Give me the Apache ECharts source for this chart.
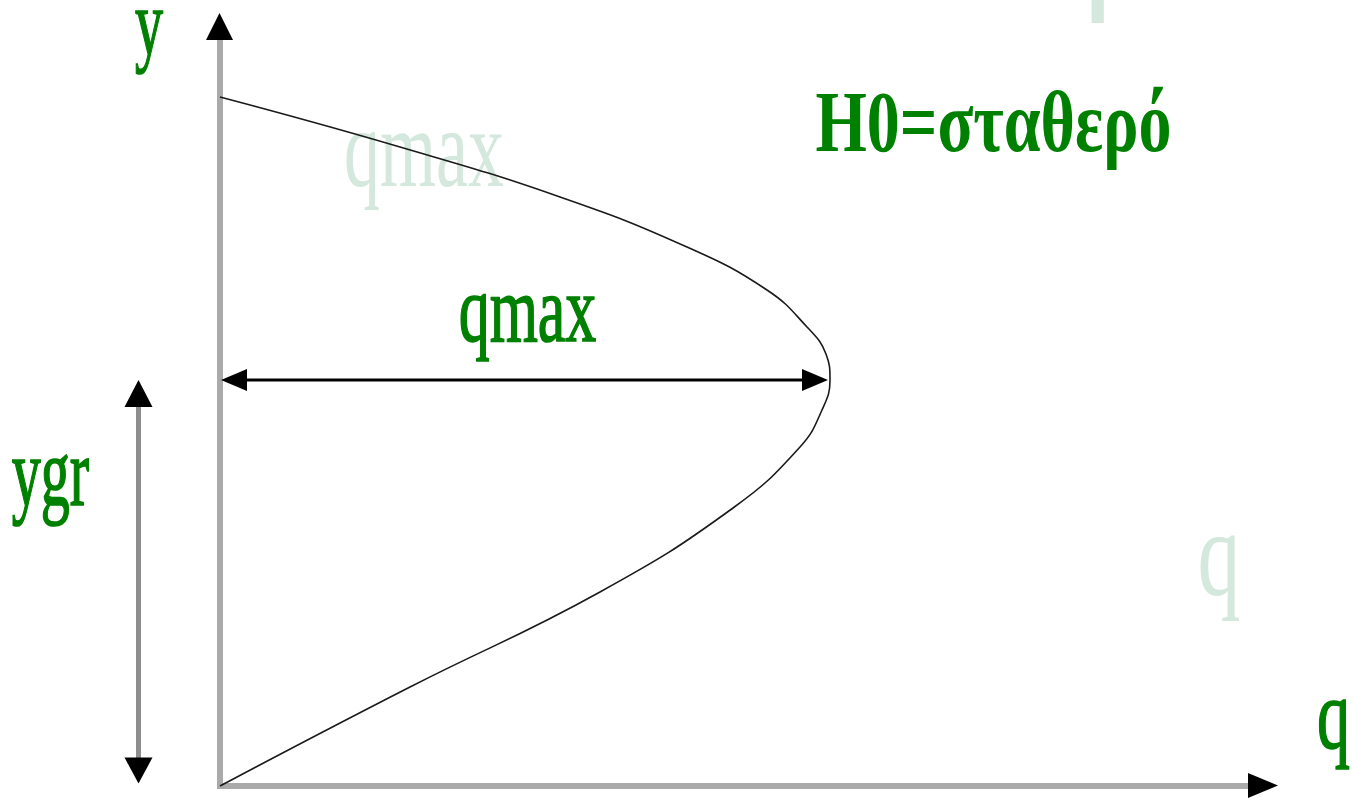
<!DOCTYPE html>
<html>
<head>
<meta charset="utf-8">
<script src="https://cdn.jsdelivr.net/npm/echarts@6/dist/echarts.min.js"></script>
<style>
  html, body { margin: 0; padding: 0; background: #fff; }
  #chart { width: 1353px; height: 803px; }
</style>
</head>
<body>
<div id="chart"></div>
<script>
// curve q(y): lower branch up to qmax, then upper branch back to the y axis
const curvePoints = [
  [0, 0], [190, 99], [380, 194], [513, 278], [580, 339], [602, 376], [610, 406],
  [606, 432], [587, 459], [547, 496], [467, 539], [340, 589], [180, 639], [0, 689]
]
const xAxisLine = [[-3, 0], [1045, 0]]
const yAxisLine = [[0, 0], [0, 762]]
const qmaxLine = [[10, 406], [600, 406]]
const ygrLine = [[-81.5, 10], [-81.5, 398]]
// [q, y, rotate, width, length]
const arrowHeads = [
  [-0.5, 759.5, 0, 27, 27],
  [1043, 0.5, -90, 25, 30],
  [14, 406, 90, 22, 26],
  [595, 406, -90, 22, 26],
  [-81.5, 392.5, 0, 28, 27],
  [-81.5, 15.5, 180, 28, 26]
]
// [text, q, y, fontSize, scaleY, colour, weight, stroke]
const labels = [
  ['H0=σταθερό', 723.5, 816, 86, 1.3, '#d5e8dd', 'bold', 0],
  ['qmax', 204, 629, 72, 1.56, '#d5e8dd', 'normal', 0],
  ['q', 999, 223, 86, 1.42, '#d5e8dd', 'normal', 0],
  ['y', -71, 756, 56, 1.66, '#008000', 'normal', 1],
  ['H0=σταθερό', 773.5, 657, 66, 1.3, '#008000', 'bold', 0],
  ['qmax', 307.5, 470, 62, 1.55, '#008000', 'normal', 1],
  ['ygr', -169.5, 307, 58, 1.68, '#008000', 'normal', 1],
  ['q', 1113.5, 64, 66, 1.52, '#008000', 'normal', 1]
]

const chart = echarts.init(document.getElementById('chart'))

const lineSeries = (name, data, color, width, z, smooth) => ({
  name,
  type: 'line',
  data,
  smooth: smooth || false,
  showSymbol: false,
  silent: true,
  z,
  lineStyle: { color, width }
})

chart.setOption({
  animation: false,
  backgroundColor: '#fff',
  textStyle: { fontFamily: 'Liberation Serif' },
  grid: { left: 0, right: 75, top: 13, bottom: 0 },
  xAxis: {
    type: 'value', min: -220, max: 1058,
    axisLine: { show: false }, axisTick: { show: false },
    axisLabel: { show: false }, splitLine: { show: false }
  },
  yAxis: {
    type: 'value', min: -17, max: 773,
    axisLine: { show: false }, axisTick: { show: false },
    axisLabel: { show: false }, splitLine: { show: false }
  },
  series: [
    lineSeries('xAxis', xAxisLine, '#aaaaaa', 6, 2),
    lineSeries('yAxis', yAxisLine, '#aaaaaa', 6, 2),
    lineSeries('ygr', ygrLine, '#8e8e8e', 5, 3),
    lineSeries('qmax', qmaxLine, '#000', 3, 3),
    lineSeries('q(y)', curvePoints, '#1a1a1a', 1.6, 4, 0.45),
    {
      name: 'arrows',
      type: 'scatter',
      silent: true,
      z: 5,
      itemStyle: { color: '#000', opacity: 1 },
      data: arrowHeads.map(a => ({
        value: [a[0], a[1]],
        symbol: 'triangle',
        symbolRotate: a[2],
        symbolSize: [a[3], a[4]]
      }))
    }
  ]
})

// text labels are stretched vertically like the original, placed through the grid scale
const graphic = labels.map(l => {
  const p = chart.convertToPixel({ gridIndex: 0 }, [l[1], l[2]])
  return {
    type: 'text',
    x: p[0],
    y: p[1],
    scaleY: l[4],
    z: l[5] === '#008000' ? 10 : 0,
    silent: true,
    style: {
      legacy: false,
      text: l[0],
      x: 0,
      y: 0,
      fill: l[5],
      stroke: l[7] ? l[5] : null,
      lineWidth: l[7],
      font: l[6] + ' ' + l[3] + 'px "Liberation Serif", "DejaVu Serif", serif',
      align: 'center',
      verticalAlign: 'middle'
    }
  }
})
chart.setOption({ graphic })
</script>
</body>
</html>
